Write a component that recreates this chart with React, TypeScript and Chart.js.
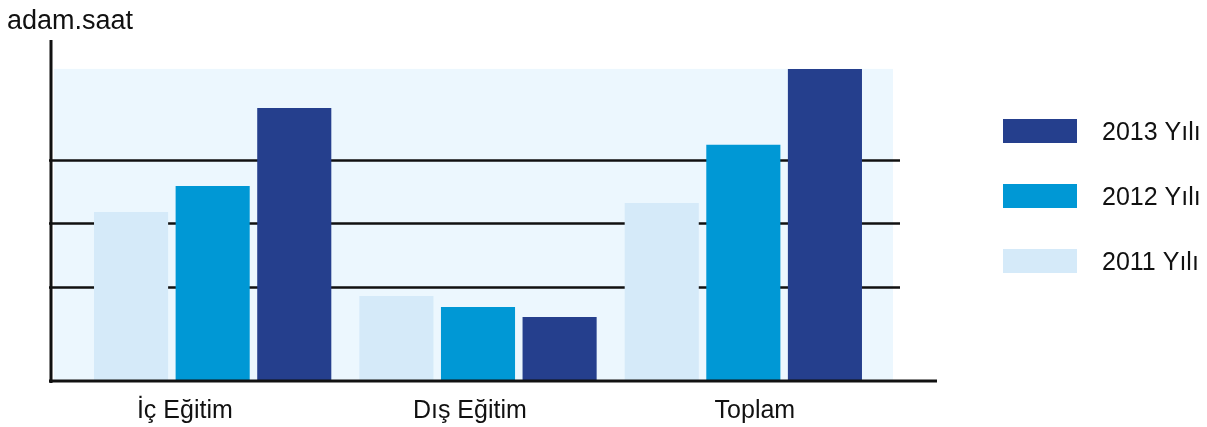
import React, { useEffect, useRef } from "react";
import { Chart, registerables } from "chart.js";

Chart.register(...registerables);

const categories = ["İç Eğitim", "Dış Eğitim", "Toplam"];
const series2011 = [5350, 2710, 5640];
const series2012 = [6170, 2360, 7470];
const series2013 = [8630, 2050, 9860];
const seriesLabels = ["2011 Yılı", "2012 Yılı", "2013 Yılı"];
const gridValues = [3000, 5000, 7000];
const yMax = 10770;
const yTitle = "adam.saat";

const COLORS = ["#d5eaf9", "#0098d5", "#253f8d"];
const BG = "#ecf7fe";
const FONT = '"Liberation Sans", Arial, Helvetica, sans-serif';

const decorPlugin = {
  id: "decor",
  beforeDatasetsDraw(chart: any) {
    const { ctx, chartArea, scales } = chart;
    const y = scales.y;
    const maxVal = Math.max(...series2011, ...series2012, ...series2013);
    ctx.save();
    ctx.fillStyle = BG;
    const bgTop = y.getPixelForValue(maxVal);
    ctx.fillRect(chartArea.left - 26, bgTop, chartArea.right + 17 - (chartArea.left - 26), chartArea.bottom - bgTop);
    ctx.strokeStyle = "#111";
    ctx.lineWidth = 2.5;
    for (const v of gridValues) {
      const py = Math.round(y.getPixelForValue(v)) + 0.5;
      ctx.beginPath();
      ctx.moveTo(chartArea.left - 31, py);
      ctx.lineTo(chartArea.right + 24, py);
      ctx.stroke();
    }
    ctx.restore();
  },
  afterDatasetsDraw(chart: any) {
    const { ctx, chartArea } = chart;
    ctx.save();
    ctx.strokeStyle = "#111";
    ctx.lineWidth = 3;
    ctx.beginPath();
    ctx.moveTo(chartArea.left - 29, chartArea.top);
    ctx.lineTo(chartArea.left - 29, chartArea.bottom + 1);
    ctx.stroke();
    ctx.beginPath();
    ctx.moveTo(chartArea.left - 31, chartArea.bottom - 1);
    ctx.lineTo(chartArea.right + 61, chartArea.bottom - 1);
    ctx.stroke();
    ctx.fillStyle = "#111";
    ctx.textBaseline = "alphabetic";
    ctx.textAlign = "left";
    ctx.font = `27px ${FONT}`;
    ctx.fillText(yTitle, 7, 29);
    ctx.font = `25px ${FONT}`;
    const ds = chart.data.datasets;
    for (let k = 0; k < ds.length; k++) {
      const d = ds[ds.length - 1 - k];
      const top = 119 + k * 65;
      ctx.fillStyle = d.backgroundColor;
      ctx.fillRect(1003, top, 74, 24);
      ctx.fillStyle = "#111";
      ctx.fillText(d.label, 1102, top + 21);
    }
    ctx.restore();
  },
};

export default function App() {
  const ref = useRef<HTMLCanvasElement>(null);
  useEffect(() => {
    document.body.style.margin = "0";
    const chart = new Chart(ref.current!, {
      type: "bar",
      data: {
        labels: categories,
        datasets: [series2011, series2012, series2013].map((d, i) => ({
          label: seriesLabels[i],
          data: d,
          backgroundColor: COLORS[i],
          borderWidth: 0,
          categoryPercentage: 0.9226,
          barPercentage: 0.908,
          xAxisID: "x",
        })),
      },
      options: {
        animation: false,
        responsive: false,
        maintainAspectRatio: false,
        layout: { padding: { left: 80, right: 331, top: 40, bottom: 1 } },
        plugins: {
          legend: { display: false },
          tooltip: { enabled: false },
          title: { display: false },
        },
        scales: {
          x: { type: "category", display: false, offset: true },
          xl: {
            type: "linear",
            position: "bottom",
            offset: false,
            bounds: "data",
            min: -0.3678,
            max: 2.425,
            afterBuildTicks: (axis: any) => {
              axis.ticks = categories.map((_, i) => ({ value: i }));
            },
            afterFit: (axis: any) => {
              axis.height = 44;
            },
            grid: { display: false, drawTicks: false, offset: false },
            border: { display: false },
            ticks: {
              padding: 14,
              color: "#111",
              font: { family: FONT, size: 25 },
              callback: (v: any) => categories[v] ?? "",
              maxRotation: 0,
              autoSkip: false,
            },
          },
          y: {
            display: false,
            min: 0,
            max: yMax,
          },
        },
      },
      plugins: [decorPlugin],
    });
    return () => chart.destroy();
  }, []);
  return (
    <div style={{ width: 1207, height: 427 }}>
      <canvas ref={ref} width={1207} height={427} style={{ display: "block" }} />
    </div>
  );
}
